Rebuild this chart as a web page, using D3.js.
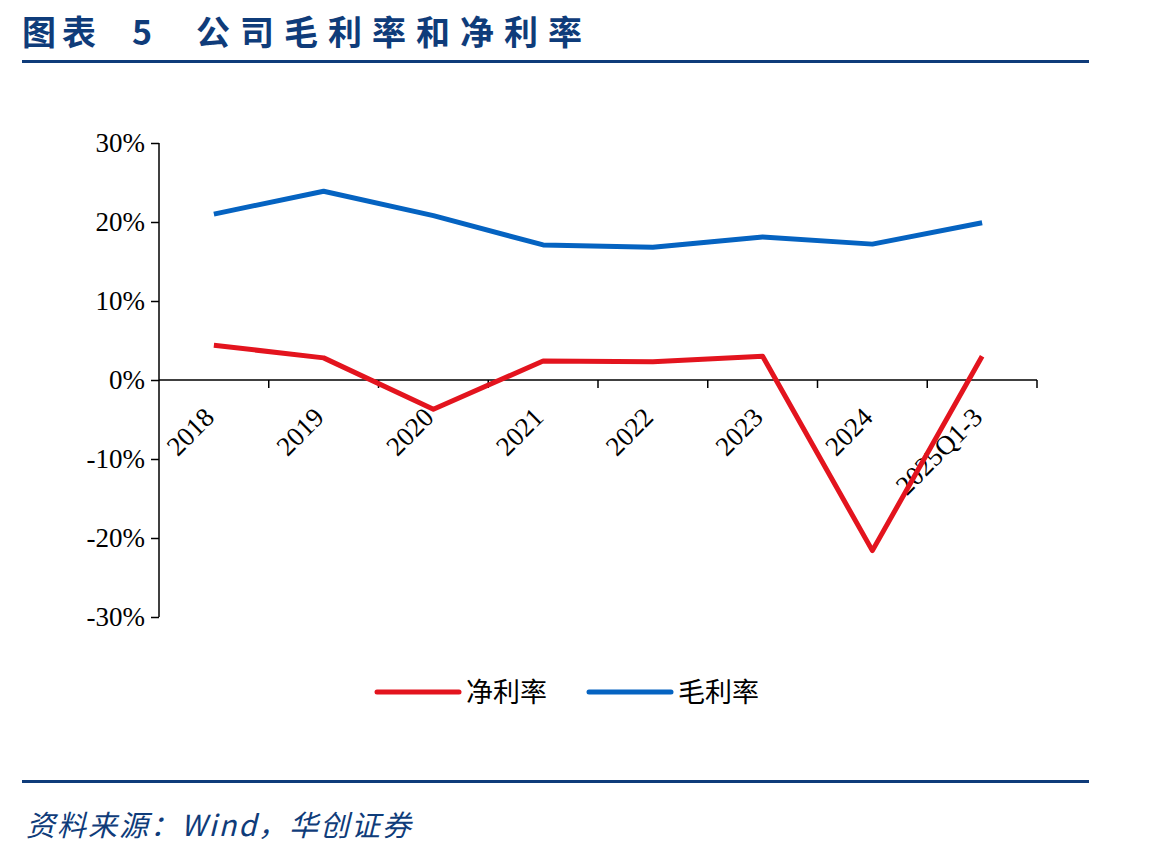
<!DOCTYPE html>
<html>
<head>
<meta charset="utf-8">
<script src="https://cdn.jsdelivr.net/npm/d3@7"></script>
<style>
  body { margin: 0; background: #fff; }
  svg { display: block; }
  text { white-space: pre; }
</style>
</head>
<body>
<svg id="chart" width="1149" height="857"></svg>
<script>
// data
const categories = ['2018', '2019', '2020', '2021', '2022', '2023', '2024', '2025Q1-3'];
const grossMargin = [21.0, 23.9, 20.8, 17.1, 16.8, 18.1, 17.2, 19.9];
const netMargin = [4.4, 2.8, -3.7, 2.4, 2.3, 3.0, -21.6, 3.0];
const yTicks = [-30, -20, -10, 0, 10, 20, 30];

const series = [
  { name: '净利率', values: netMargin, color: '#E3141E' },
  { name: '毛利率', values: grossMargin, color: '#0563C1' }
];

const svg = d3.select('#chart');
const titleColor = '#0F3C7A';
const serif = '"Liberation Serif", "Times New Roman", serif';
const cjk = '"Noto Sans CJK SC", sans-serif';

// header
const title = svg.append('text')
  .attr('y', 45)
  .attr('fill', titleColor)
  .attr('font-family', cjk)
  .attr('font-weight', 'bold')
  .attr('font-size', 34);
title.append('tspan').attr('x', 22).attr('letter-spacing', 6).text('图表');
title.append('tspan').attr('x', 132).text('5');
title.append('tspan').attr('x', 196).attr('letter-spacing', 10).text('公司毛利率和净利率');

svg.append('rect').attr('x', 22).attr('y', 60).attr('width', 1067).attr('height', 3).attr('fill', titleColor);
svg.append('rect').attr('x', 22).attr('y', 780).attr('width', 1067).attr('height', 3).attr('fill', titleColor);

svg.append('text')
  .attr('x', 26).attr('y', 836)
  .attr('fill', titleColor)
  .attr('font-family', cjk)
  .attr('font-style', 'italic')
  .attr('font-size', 29)
  .attr('letter-spacing', 2)
  .text('资料来源：Wind，华创证券');

// scales
const x = d3.scaleBand().domain(categories).range([159, 1037]);
const y = d3.scaleLinear().domain([-30, 30]).range([617, 143]);

// y axis
const yAxis = svg.append('g')
  .attr('transform', 'translate(159,0)')
  .call(d3.axisLeft(y).tickValues(yTicks).tickSize(8).tickPadding(6).tickFormat(d => d + '%'));
yAxis.selectAll('text').attr('font-family', serif).attr('font-size', 27).attr('fill', '#000');
yAxis.selectAll('line, path').attr('stroke', '#000').attr('stroke-width', 1.5);
yAxis.select('.domain').attr('d', 'M0,143V617');

// x axis at 0
const xAxis = svg.append('g')
  .attr('transform', `translate(0,${y(0)})`)
  .call(d3.axisBottom(x).tickSize(0).tickFormat(''));
xAxis.select('.domain').attr('d', 'M159,0H1037').attr('stroke', '#000').attr('stroke-width', 1.5);
xAxis.selectAll('.tick').remove();

// x tick marks at band boundaries
const bounds = categories.map(c => x(c)).concat([x.range()[1]]);
svg.append('g').selectAll('line').data(bounds.slice(1)).enter().append('line')
  .attr('x1', d => d).attr('x2', d => d)
  .attr('y1', y(0)).attr('y2', y(0) + 8)
  .attr('stroke', '#000').attr('stroke-width', 1.5);

// rotated category labels
svg.append('g').selectAll('text').data(categories).enter().append('text')
  .attr('transform', d => `translate(${x(d) + x.bandwidth() / 2 + 2},${y(0) + 39}) rotate(-45)`)
  .attr('text-anchor', 'end')
  .attr('font-family', serif)
  .attr('font-size', 27)
  .attr('fill', '#000')
  .text(d => d);

// lines
const line = d3.line()
  .x((d, i) => x(categories[i]) + x.bandwidth() / 2)
  .y(d => y(d));

svg.append('g').selectAll('path').data(series).enter().append('path')
  .attr('d', d => line(d.values))
  .attr('fill', 'none')
  .attr('stroke', d => d.color)
  .attr('stroke-width', 5)
  .attr('stroke-linejoin', 'round');

// legend
const legend = svg.append('g').selectAll('g').data(series).enter().append('g')
  .attr('transform', (d, i) => `translate(${377 + i * 212},692)`);
legend.append('line')
  .attr('x1', 0).attr('x2', 82).attr('y1', 0).attr('y2', 0)
  .attr('stroke', d => d.color).attr('stroke-width', 5).attr('stroke-linecap', 'round');
legend.append('text')
  .attr('x', 89).attr('y', 10)
  .attr('font-family', cjk)
  .attr('font-size', 27)
  .attr('fill', '#000')
  .text(d => d.name);
</script>
</body>
</html>
